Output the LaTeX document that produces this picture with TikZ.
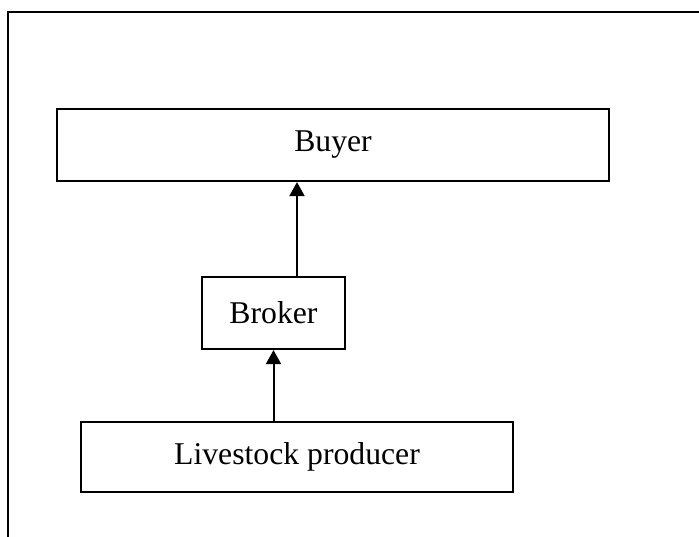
\documentclass[tikz,border=0pt]{standalone}
\usepackage{fontspec}
\setmainfont{Liberation Serif}
\usetikzlibrary{arrows.meta}
\begin{document}
\begin{tikzpicture}[x=1pt,y=-1pt,
  box/.style={draw, line width=2.2pt, inner sep=0pt, font=\fontsize{31.7}{36}\selectfont},
  arr/.style={line width=2pt, -{Triangle[width=15pt,length=14pt]}}]
\clip (0,0) rectangle (699,536);
\fill[white] (0,0) rectangle (699,536);
\draw[line width=2.8pt] (8,12) rectangle (720,560);
\node[box, minimum width=552pt, minimum height=72pt] (buyer) at (333,145) {Buyer};
\node[box, minimum width=143pt, minimum height=72pt] (broker) at (273.5,313) {Broker};
\node[box, minimum width=432pt, minimum height=70pt] (producer) at (297,457) {Livestock producer};
\draw[arr] (producer.north |- broker.north) -- (producer.north |- buyer.south);
\draw[arr] (broker.south |- producer.north) -- (broker.south);
\end{tikzpicture}
\end{document}
